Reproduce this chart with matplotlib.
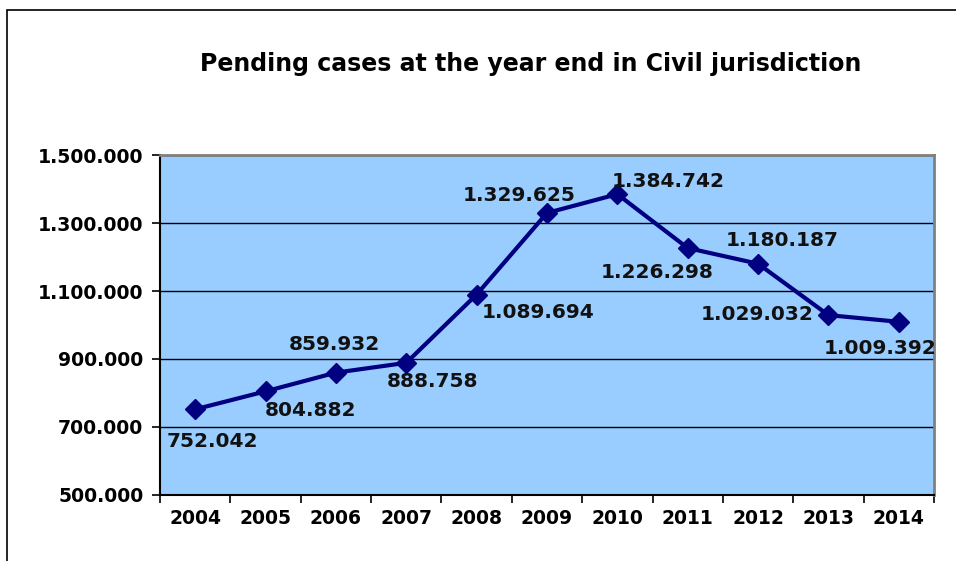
import matplotlib.pyplot as plt
from matplotlib.patches import Rectangle

# data
years = ["2004", "2005", "2006", "2007", "2008", "2009",
         "2010", "2011", "2012", "2013", "2014"]
pending = [752042, 804882, 859932, 888758, 1089694, 1329625,
           1384742, 1226298, 1180187, 1029032, 1009392]
# label offsets (pixels) relative to each marker, as placed in the original
label_dx = [17, 45, -2, 26, 61, -28, 51, -31, 24, -71, -19]
label_dy = [-32, -19, 28, -19, -18, 17, 13, -24, 23, 1, -27]


def dotted(v):
    """ 1234567 -> 1.234.567 """
    return f"{int(v):,}".replace(",", ".")


plt.rcParams['font.family'] = 'DejaVu Sans'
plt.rcParams['font.weight'] = 'bold'

fig = plt.figure(figsize=(9.56, 5.61), dpi=100)
ax = fig.add_axes([160 / 956, 1 - 495 / 561, 774 / 956, 340 / 561])
ax.set_facecolor("#99CCFF")

x = list(range(len(years)))
ax.plot(x, pending, color="#000080", lw=3, marker="D", ms=10.5,
        zorder=3, clip_on=False)

for i, v in enumerate(pending):
    ax.annotate(dotted(v), (x[i], v), xytext=(label_dx[i], label_dy[i]),
                textcoords="offset pixels", ha="center", va="center",
                fontsize=14.5, fontweight="bold", color="#111111", zorder=4)

# axes
ax.set_ylim(500000, 1500000)
ax.set_yticks(range(500000, 1500001, 200000))
ax.set_yticklabels([dotted(v) for v in range(500000, 1500001, 200000)])
ax.set_xlim(-0.5, len(years) - 0.5)
ax.set_xticks([i - 0.5 for i in range(len(years) + 1)])
ax.set_xticklabels([])
ax.set_xticks(x, minor=True)
ax.set_xticklabels(years, minor=True)
ax.tick_params(axis="x", which="minor", length=0, pad=10, labelsize=13.5)
ax.tick_params(axis="x", which="major", length=6, width=1.2, direction="out")
ax.tick_params(axis="y", length=6, width=1.2, pad=6, labelsize=13.6)

ax.grid(axis="y", color="black", lw=1)
ax.set_axisbelow(True)
for side in ("top", "right"):
    ax.spines[side].set_color("#808080")
    ax.spines[side].set_linewidth(2)
for side in ("left", "bottom"):
    ax.spines[side].set_color("black")
    ax.spines[side].set_linewidth(1.5)

fig.text(531 / 956, 1 - 64 / 561,
         "Pending cases at the year end in Civil jurisdiction",
         ha="center", va="center", fontsize=17, fontweight="bold")

# chart frame
fig.patches.append(Rectangle((7 / 956, -0.05), 1.0, 1 - 10 / 561 + 0.05,
                             transform=fig.transFigure, fill=False,
                             edgecolor="black", lw=1.2))

fig.savefig("out.png", dpi=100)
